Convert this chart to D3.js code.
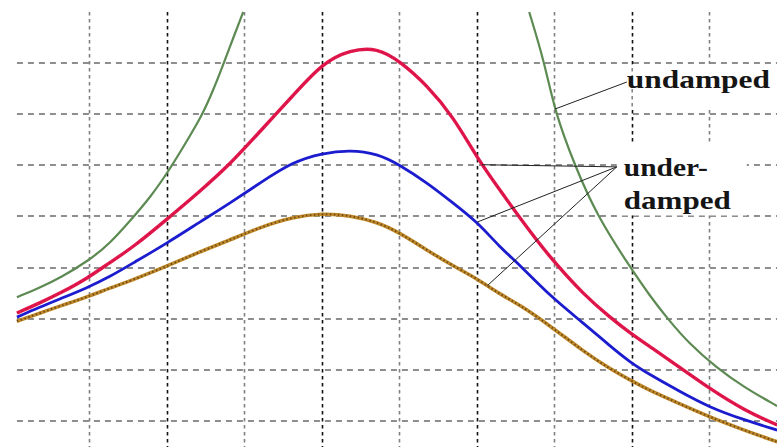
<!DOCTYPE html>
<html lang="en">
<head>
<meta charset="UTF-8">
<title>Resonance curves</title>
<script src="https://d3js.org/d3.v7.min.js"></script>
<style>
    body { margin: 0; background: #fff; }
    svg { display: block; }
    .hgrid { stroke: #8e8e8e; stroke-width: 2; stroke-dasharray: 6,5; }
    .vgrid { stroke-width: 1.6; stroke-dasharray: 3.5,3.5; }
    .label { font-family: "Liberation Serif", "Times New Roman", serif; font-weight: bold; font-size: 26px; fill: #151515; }
    .leader { stroke: #222; stroke-width: 1; fill: none; }
</style>
</head>
<body>
<div id="chart"></div>
<script>
    // frequency axis (grid lines sit on whole numbers)
    const freq = [0.07, 0.37, 0.63, 0.97, 1.27, 1.57, 2.01, 2.43, 2.82, 3.21, 3.63, 4.01, 4.37, 4.72,
                  5.01, 5.36, 5.70, 6.01, 6.30, 6.56, 6.95, 7.39, 7.72, 7.98, 8.24, 8.63, 9.00, 9.45, 9.88];

    // amplitude, three under-damped curves
    const redAmp   = [3.11, 3.31, 3.50, 3.78, 4.10, 4.40, 4.95, 5.49, 6.02, 6.67, 7.36, 8.00, 8.26, 8.30,
                      8.04, 7.57, 6.95, 6.14, 5.52, 4.97, 4.19, 3.46, 3.03, 2.72, 2.45, 2.04, 1.64, 1.21, 0.92];
    const blueAmp  = [3.03, 3.23, 3.39, 3.60, 3.82, 4.09, 4.48, 4.89, 5.26, 5.66, 6.07, 6.24, 6.30, 6.23,
                      6.01, 5.66, 5.26, 4.89, 4.40, 4.05, 3.44, 2.90, 2.47, 2.15, 1.90, 1.57, 1.27, 1.02, 0.82];
    const brownAmp = [2.95, 3.11, 3.25, 3.42, 3.60, 3.76, 4.03, 4.31, 4.54, 4.79, 4.99, 5.06, 5.02, 4.89,
                      4.68, 4.34, 4.03, 3.78, 3.48, 3.27, 2.86, 2.35, 2.02, 1.80, 1.59, 1.33, 1.08, 0.82, 0.59];

    // undamped curve, two branches either side of resonance
    const undampedLeftFreq  = [0.07, 0.37, 0.63, 1.00, 1.27, 1.55, 1.79, 2.05, 2.26, 2.46, 2.60, 2.73, 2.86, 2.99];
    const undampedLeftAmp   = [3.42, 3.61, 3.80, 4.14, 4.47, 4.95, 5.37, 5.94, 6.47, 6.98, 7.46, 7.96, 8.49, 9.00];
    const undampedRightFreq = [6.68, 6.88, 7.01, 7.27, 7.55, 7.98, 8.24, 8.46, 8.75, 9.10, 9.45, 9.88];
    const undampedRightAmp  = [9.00, 8.00, 7.05, 5.99, 5.03, 4.01, 3.44, 3.01, 2.50, 2.04, 1.66, 1.29];

    const gridX = [1, 2, 3, 4, 5, 6, 7, 8, 9];
    const gridY = [1, 2, 3, 4, 5, 6, 7, 8];

    const width = 777, height = 447;

    const svg = d3.select("#chart").append("svg")
        .attr("width", width)
        .attr("height", height);

    const x = d3.scaleLinear().domain([0, 10]).range([11.5, 786.5]);
    const y = d3.scaleLinear().domain([0, 9]).range([472, 12]);

    // grid
    svg.append("g").selectAll("line")
        .data(gridY)
        .join("line")
        .attr("class", "hgrid")
        .attr("x1", x(0.07)).attr("x2", width)
        .attr("y1", d => Math.round(y(d))).attr("y2", d => Math.round(y(d)));

    svg.append("g").selectAll("line")
        .data(gridX)
        .join("line")
        .attr("class", "vgrid")
        .attr("stroke", d => d % 2 ? "#808080" : "#111")
        .attr("x1", d => Math.round(x(d)) + 0.5).attr("x2", d => Math.round(x(d)) + 0.5)
        .attr("y1", y(9)).attr("y2", height);

    // white boxes behind the labels
    svg.append("rect")
        .attr("x", x(8) + 1).attr("y", y(8) + 1)
        .attr("width", width - x(8)).attr("height", 43)
        .attr("fill", "#fff");
    svg.append("rect")
        .attr("x", x(7.81)).attr("y", y(6.4))
        .attr("width", 130).attr("height", y(5) - y(6.4) - 1)
        .attr("fill", "#fff");

    const line = d3.line()
        .x(d => x(d[0]))
        .y(d => y(d[1]))
        .curve(d3.curveBasis);

    const zip = (a, b) => a.map((v, i) => [v, b[i]]);

    // undamped
    [zip(undampedLeftFreq, undampedLeftAmp), zip(undampedRightFreq, undampedRightAmp)].forEach(pts => {
        svg.append("path").attr("d", line(pts))
            .attr("fill", "none").attr("stroke", "#5c8a52").attr("stroke-width", 2.2);
    });

    // brown, with its speckled look
    svg.append("path").attr("d", line(zip(freq, brownAmp)))
        .attr("fill", "none").attr("stroke", "#c08a2a").attr("stroke-width", 3.6);
    svg.append("path").attr("d", line(zip(freq, brownAmp)))
        .attr("fill", "none").attr("stroke", "#5a3a12").attr("stroke-width", 2)
        .attr("stroke-dasharray", "1.5,2.5").attr("opacity", 0.8);

    // blue
    svg.append("path").attr("d", line(zip(freq, blueAmp)))
        .attr("fill", "none").attr("stroke", "#1c1ccf").attr("stroke-width", 2.8);

    // red
    svg.append("path").attr("d", line(zip(freq, redAmp)))
        .attr("fill", "none").attr("stroke", "#e3164c").attr("stroke-width", 3.4);
    svg.append("path").attr("d", line(zip(freq, redAmp)))
        .attr("fill", "none").attr("stroke", "#8c1838").attr("stroke-width", 1.2)
        .attr("stroke-dasharray", "1,4").attr("opacity", 0.6);

    // leader lines
    const interp = (xs, ys, v) => {
        const i = d3.bisectLeft(xs, v);
        const t = (v - xs[i - 1]) / (xs[i] - xs[i - 1]);
        return ys[i - 1] + t * (ys[i] - ys[i - 1]);
    };

    svg.append("line").attr("class", "leader")
        .attr("x1", x(7.94)).attr("y1", y(7.63))
        .attr("x2", x(7.01)).attr("y2", y(interp(undampedRightFreq, undampedRightAmp, 7.01) + 0.05));

    const hub = [7.81, 5.97];
    [[6.07, redAmp], [6.01, blueAmp], [6.14, brownAmp]].forEach(([f, amp]) => {
        svg.append("line").attr("class", "leader")
            .attr("x1", x(hub[0])).attr("y1", y(hub[1]))
            .attr("x2", x(f)).attr("y2", y(interp(freq, amp, f)));
    });

    // labels
    svg.append("text").attr("class", "label")
        .attr("x", x(7.94)).attr("y", 88)
        .attr("textLength", 143).attr("lengthAdjust", "spacingAndGlyphs")
        .text("undamped");
    svg.append("text").attr("class", "label")
        .attr("x", x(7.90)).attr("y", 176)
        .attr("textLength", 84).attr("lengthAdjust", "spacingAndGlyphs")
        .text("under-");
    svg.append("text").attr("class", "label")
        .attr("x", x(7.90)).attr("y", 209)
        .attr("textLength", 107).attr("lengthAdjust", "spacingAndGlyphs")
        .text("damped");
</script>
</body>
</html>
